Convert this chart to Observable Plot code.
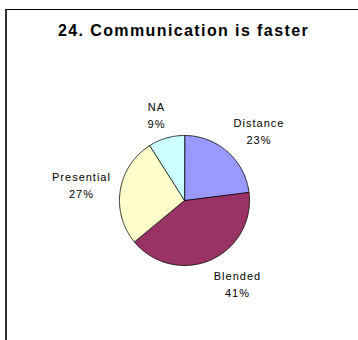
<!DOCTYPE html>
<html>
<head>
<meta charset="utf-8">
<script src="https://cdn.jsdelivr.net/npm/d3@7"></script>
<script src="https://cdn.jsdelivr.net/npm/@observablehq/plot@0.6"></script>
<style>
  html, body { margin: 0; padding: 0; background: #fff; }
  #wrap { position: relative; width: 358px; height: 340px; overflow: hidden; font-family: "Liberation Sans", Arial, sans-serif; }
  #frame { position: absolute; left: 5px; top: 9px; width: 400px; height: 400px; border-top: 1.5px solid #000; border-left: 2px solid #333; box-sizing: border-box; }
  #title { position: absolute; left: 0; width: 367px; top: 22px; text-align: center; font-weight: bold; font-size: 16px; letter-spacing: 1.4px; color: #000; }
  #chart { position: absolute; left: 0; top: 0; }
</style>
</head>
<body>
<div id="wrap">
  <div id="frame"></div>
  <div id="title"></div>
  <div id="chart"></div>
</div>
<script>
const titleText = "24. Communication is faster";
const categories = ["Distance", "Blended", "Presential", "NA"];
const values = [23, 41, 27, 9];
const colors = ["#9999FF", "#993366", "#FFFFCC", "#CCFFFF"];

document.getElementById("title").textContent = titleText;

const data = categories.map((c, i) => ({category: c, value: values[i]}));
const total = d3.sum(values);
const arcs = d3.pie().sort(null).value(d => d.value)(data);

// slice polygons in unit coordinates (y down, angle 0 at top, clockwise)
const features = arcs.map(a => {
  const n = Math.max(2, Math.ceil((a.endAngle - a.startAngle) / (Math.PI / 180)));
  const ring = [[0, 0]];
  for (let k = 0; k <= n; k++) {
    const t = a.startAngle + (a.endAngle - a.startAngle) * k / n;
    ring.push([Math.sin(t), -Math.cos(t)]);
  }
  ring.push([0, 0]);
  return {type: "Feature", properties: {category: a.data.category}, geometry: {type: "Polygon", coordinates: [ring]}};
});

// layout: pie centre and radius in pixels
const W = 358, H = 340, cx = 184, cy = 200, radiusPx = 65;

// label placement: anchor on a circle outside the pie at the mid-angle,
// label box pushed outward so its inner corner sits on the anchor
const fontSize = 11, letterSp = 1, lineH = 1.55;
const ctx = document.createElement("canvas").getContext("2d");
ctx.font = `${fontSize}px "Liberation Sans", Arial, sans-serif`;
const measure = s => ctx.measureText(s).width + letterSp * (s.length - 1);
const clamp = v => Math.max(-1, Math.min(1, v));
const labels = arcs.map(a => {
  const mid = (a.startAngle + a.endAngle) / 2;
  const pct = Math.round(a.data.value / total * 100) + "%";
  const w = Math.max(measure(a.data.category), measure(pct));
  const h = fontSize * lineH + fontSize;
  const R = radiusPx + 10;
  const s = Math.sin(mid), c = Math.cos(mid);
  return {
    x: (R * s + clamp(3 * s) * w / 2) / radiusPx,
    y: (-R * c - clamp(2 * c) * h / 2) / radiusPx,
    text: a.data.category + "\n" + pct
  };
});

const chart = Plot.plot({
  width: W,
  height: H,
  margin: 0,
  style: {background: "transparent", letterSpacing: letterSp + "px", fontFamily: '"Liberation Sans", Arial, sans-serif'},
  projection: {
    type: "identity",
    domain: {type: "MultiPoint", coordinates: [[-cx / radiusPx, -cy / radiusPx], [(W - cx) / radiusPx, (H - cy) / radiusPx]]}
  },
  color: {domain: categories, range: colors},
  marks: [
    Plot.geo(features, {fill: d => d.properties.category, stroke: "#000", strokeWidth: 0.8}),
    Plot.text(labels, {x: "x", y: "y", text: "text", fontSize: fontSize, lineHeight: lineH, fill: "#000", fontFamily: '"Liberation Sans", Arial, sans-serif'})
  ]
});
document.getElementById("chart").appendChild(chart);
</script>
</body>
</html>
